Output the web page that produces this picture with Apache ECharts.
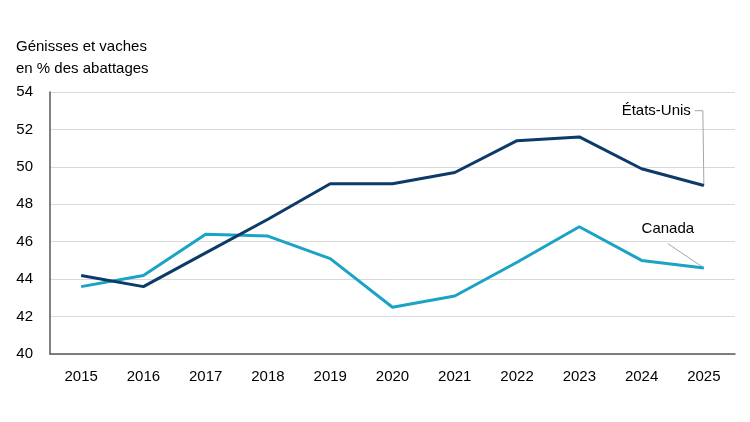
<!DOCTYPE html>
<html>
<head>
<meta charset="UTF-8">
<title>Génisses et vaches</title>
<script type="text/javascript" src="https://cdn.jsdelivr.net/npm/echarts@6/dist/echarts.min.js"></script>
<style>
html,body{margin:0;padding:0;background:#fff;}
</style>
</head>
<body>
<div id="main" style="width:750px;height:422px;"></div>

<script type="text/javascript">
// années
var years = ['2015','2016','2017','2018','2019','2020','2021','2022','2023','2024','2025'];
// États-Unis
var usValues = [44.2, 43.6, 45.4, 47.2, 49.1, 49.1, 49.7, 51.4, 51.6, 49.9, 49.0];
// Canada
var caValues = [43.6, 44.2, 46.4, 46.3, 45.1, 42.5, 43.1, 44.9, 46.8, 45.0, 44.6];
// axe y
var yMin = 40, yMax = 54, yStep = 2;

var font = 'Liberation Sans';
var fs = 15;
var mychart = echarts.init(document.getElementById('main'));

var option = {
    animation: false,
    textStyle: {fontFamily: font},
    title: {
        text: 'Génisses et vaches\nen % des abattages',
        left: 11,
        top: 31,
        textStyle: {fontSize: fs, fontWeight: 'normal', color: '#000', lineHeight: 22, fontFamily: font}
    },
    grid: {left: 50, right: 15, top: 92, bottom: 68, containLabel: false},
    xAxis: {
        type: 'category',
        data: years,
        boundaryGap: true,
        axisLine: {lineStyle: {color: '#595959', width: 1.5}},
        axisTick: {show: false},
        axisLabel: {color: '#000', fontSize: fs, margin: 15, fontFamily: font}
    },
    yAxis: {
        type: 'value',
        min: yMin,
        max: yMax,
        interval: yStep,
        axisLine: {show: true, lineStyle: {color: '#595959', width: 1.5}},
        axisTick: {show: false},
        axisLabel: {color: '#000', fontSize: fs, margin: 17, fontFamily: font},
        splitLine: {lineStyle: {color: '#d9d9d9', width: 1}}
    },
    series: [{
        name: 'États-Unis',
        type: 'line',
        data: usValues,
        symbol: 'none',
        lineStyle: {color: '#0b3b66', width: 3},
        z: 3
    }, {
        name: 'Canada',
        type: 'line',
        data: caValues,
        symbol: 'none',
        lineStyle: {color: '#1ba3c6', width: 3},
        z: 2
    }]
};

mychart.setOption(option);

// étiquettes avec traits de rappel, placées à partir du dernier point
var last = years.length - 1;
var pUs = mychart.convertToPixel({seriesIndex: 0}, [last, usValues[last]]);
var pCa = mychart.convertToPixel({seriesIndex: 1}, [last, caValues[last]]);
var yUsLab = mychart.convertToPixel({yAxisIndex: 0}, 53);
var yCaLab = mychart.convertToPixel({yAxisIndex: 0}, 46.7);

mychart.setOption({
    graphic: [{
        type: 'text',
        x: pUs[0] - 13,
        y: yUsLab,
        style: {text: 'États-Unis', fill: '#000', font: fs + 'px "' + font + '"', align: 'right', verticalAlign: 'middle'}
    }, {
        type: 'polyline',
        shape: {points: [[pUs[0] - 9, yUsLab], [pUs[0] - 1, yUsLab], [pUs[0], pUs[1]]]},
        style: {stroke: '#a6a6a6', lineWidth: 1, fill: null}
    }, {
        type: 'text',
        x: pCa[0] - 36,
        y: yCaLab,
        style: {text: 'Canada', fill: '#000', font: fs + 'px "' + font + '"', align: 'center', verticalAlign: 'middle'}
    }, {
        type: 'line',
        shape: {x1: pCa[0] - 36, y1: yCaLab + 15, x2: pCa[0], y2: pCa[1]},
        style: {stroke: '#a6a6a6', lineWidth: 1}
    }]
});
</script>
</body>
</html>
